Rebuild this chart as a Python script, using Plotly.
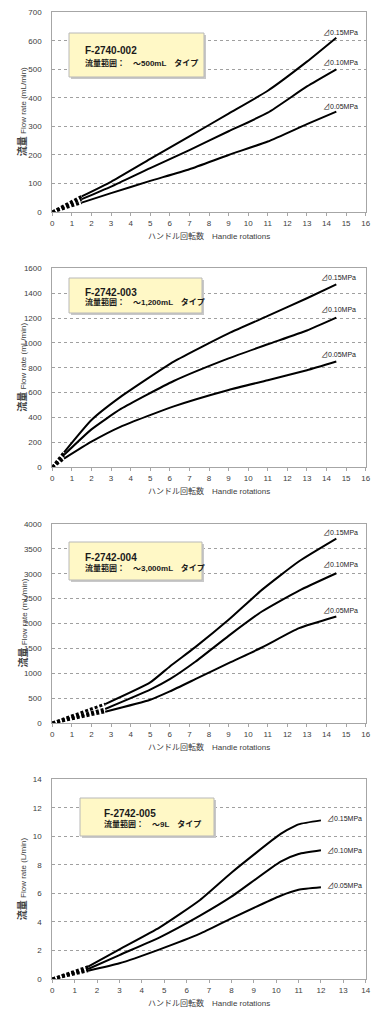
import plotly.graph_objects as go

W, H = 381, 1024

# ---------------- data ----------------
pressures = ["0.15MPa", "0.10MPa", "0.05MPa"]

# Chart 1: F-2740-002
c1_x = [1.5, 3, 5, 7, 9, 11, 13, 14.5]
c1_y = {
    "0.15MPa": [55, 106, 186, 265, 345, 425, 527, 611],
    "0.10MPa": [45, 89, 154, 217, 283, 348, 440, 500],
    "0.05MPa": [33, 66, 109, 150, 200, 247, 308, 352],
}
c1_label_y = [630, 525, 369]

# Chart 2: F-2742-003
c2_x = [0.6, 2, 3.5, 6.2, 9, 11, 13, 14.5]
c2_y = {
    "0.15MPa": [120, 380, 568, 850, 1077, 1217, 1359, 1471],
    "0.10MPa": [100, 305, 469, 694, 876, 989, 1100, 1203],
    "0.05MPa": [70, 206, 327, 490, 622, 700, 780, 850],
}
c2_label_y = [1528, 1270, 909]

# Chart 3: F-2742-004
c3_x = [2.7, 5, 6, 7.3, 9, 10.7, 12.6, 14.5]
c3_y = {
    "0.15MPa": [381, 816, 1137, 1525, 2074, 2676, 3251, 3706],
    "0.10MPa": [281, 669, 880, 1230, 1752, 2241, 2662, 3010],
    "0.05MPa": [227, 468, 635, 880, 1204, 1518, 1906, 2140],
}
c3_label_y = [3833, 3191, 2254]

# Chart 4: F-2742-005
c4_x = [1.6, 3, 4.8, 6.6, 8, 10.2, 11, 12]
c4_y = {
    "0.15MPa": [0.86, 2.08, 3.62, 5.54, 7.45, 10.17, 10.84, 11.12],
    "0.10MPa": [0.70, 1.68, 2.92, 4.44, 5.77, 8.23, 8.76, 9.02],
    "0.05MPa": [0.58, 1.10, 2.08, 3.18, 4.25, 5.84, 6.26, 6.43],
}
c4_label_y = [11.26, 9.02, 6.54]

titles = ["F-2740-002", "F-2742-003", "F-2742-004", "F-2742-005"]
ranges_txt = ["流量範囲：　～500mL　タイプ", "流量範囲：　～1,200mL　タイプ",
              "流量範囲：　～3,000mL　タイプ", "流量範囲：　～9L　タイプ"]
y_titles = ["Flow rate (mL/min)", "Flow rate (mL/min)", "Flow rate (mL/min)", "Flow rate (L/min)"]
x_max = [16, 16, 16, 14]
y_max = [700, 1600, 4000, 14]
y_dtick = [100, 200, 500, 2]
label_x = [13.7, 13.6, 13.7, 12.2]

charts = [
    (c1_x, c1_y, c1_label_y),
    (c2_x, c2_y, c2_label_y),
    (c3_x, c3_y, c3_label_y),
    (c4_x, c4_y, c4_label_y),
]

# ---------------- layout geometry (screen pixels) ----------------
OFF = 8  # default body margin of the html page
plot_left, plot_right = 52.3, 365.7
plot_tops = [12.3, 268.3, 524.0, 779.3]
plot_bots = [212.0, 467.3, 723.0, 979.0]
boxes = [(69, 33, 204, 77), (69, 278, 202, 313), (69, 542, 202, 580), (80, 798, 214, 836)]


def px(x):
    return (x - OFF) / W


def py(y):
    return 1 - (y - OFF) / H


FONT = "Liberation Sans, Noto Sans CJK JP, sans-serif"

fig = go.Figure()
layout = dict(
    width=W, height=H,
    margin=dict(l=0, r=0, t=0, b=0, autoexpand=False),
    paper_bgcolor="white", plot_bgcolor="white",
    showlegend=False,
    font=dict(family=FONT, size=8, color="#595959"),
)
shapes = []
annotations = []

for i, (xs, ys, lab_y) in enumerate(charts):
    n = "" if i == 0 else str(i + 1)
    xa, ya = "x" + n, "y" + n
    layout["xaxis" + n] = dict(
        domain=[px(plot_left), px(plot_right)], anchor=ya, automargin=False,
        range=[0, x_max[i]], dtick=1, tick0=0,
        showgrid=False, zeroline=False,
        showline=True, linecolor="#a6a6a6", linewidth=1, mirror=True,
        ticks="outside", ticklen=3, tickcolor="#a6a6a6",
        tickfont=dict(size=8, color="#404040", family=FONT),
    )
    layout["yaxis" + n] = dict(
        domain=[py(plot_bots[i]), py(plot_tops[i])], anchor=xa, automargin=False,
        range=[0, y_max[i]], dtick=y_dtick[i], tick0=0,
        showgrid=True, gridcolor="#a0a0a0", griddash="dot", gridwidth=1,
        zeroline=False,
        showline=True, linecolor="#a6a6a6", linewidth=1, mirror=True,
        ticks="", ticklabelstandoff=8,
        tickfont=dict(size=8, color="#404040", family=FONT),
    )
    for k, p in enumerate(pressures):
        yv = ys[p]
        # dashed extrapolation from origin
        fig.add_trace(go.Scatter(
            x=[0, xs[0]], y=[0, yv[0]], xaxis=xa, yaxis=ya, mode="lines",
            line=dict(color="black", width=3, dash="3px,2px"), hoverinfo="skip"))
        fig.add_trace(go.Scatter(
            x=xs, y=yv, xaxis=xa, yaxis=ya, mode="lines",
            line=dict(color="black", width=2, shape="spline", smoothing=0.5), name=p))
        annotations.append(dict(
            x=label_x[i], y=lab_y[k], xref=xa, yref=ya, text="⊿" + p,
            showarrow=False, xanchor="left", yanchor="middle",
            font=dict(size=7, color="#222222", family=FONT)))

    # text box with shadow
    x0, y0, x1, y1 = boxes[i]
    shapes.append(dict(type="rect", xref="paper", yref="paper",
                       x0=px(x0 + 2), x1=px(x1 + 2), y0=py(y1 + 2), y1=py(y0 + 2),
                       fillcolor="#c8c8c8", line=dict(width=0), layer="above"))
    shapes.append(dict(type="rect", xref="paper", yref="paper",
                       x0=px(x0), x1=px(x1), y0=py(y1), y1=py(y0),
                       fillcolor="#fff8c6", line=dict(color="#b8b8b8", width=1), layer="above"))
    tx = x0 + 14 if i < 3 else x0 + 22
    hgt = y1 - y0
    annotations.append(dict(
        x=px(tx), y=py(y0 + hgt * 0.40), xref="paper", yref="paper",
        text="<b>" + titles[i] + "</b>", showarrow=False, xanchor="left", yanchor="middle",
        font=dict(size=10, color="#1a1a1a", family=FONT)))
    annotations.append(dict(
        x=px(tx), y=py(y0 + hgt * 0.68), xref="paper", yref="paper",
        text="<b>" + ranges_txt[i] + "</b>", showarrow=False, xanchor="left", yanchor="middle",
        font=dict(size=8, color="#1a1a1a", family=FONT)))

    # axis titles
    annotations.append(dict(
        x=px((plot_left + plot_right) / 2), y=py(plot_bots[i] + 24), xref="paper", yref="paper",
        text="ハンドル回転数　Handle rotations", showarrow=False, xanchor="center", yanchor="middle",
        font=dict(size=8, color="#404040", family=FONT)))
    annotations.append(dict(
        x=px(22), y=py((plot_tops[i] + plot_bots[i]) / 2), xref="paper", yref="paper",
        text="<b><span style='font-size:10px'>流量</span></b> " + y_titles[i], textangle=-90,
        showarrow=False, xanchor="center", yanchor="middle",
        font=dict(size=8, color="#404040", family=FONT)))

layout["shapes"] = shapes
layout["annotations"] = annotations
fig.update_layout(**layout)
fig.write_html("out.html")
